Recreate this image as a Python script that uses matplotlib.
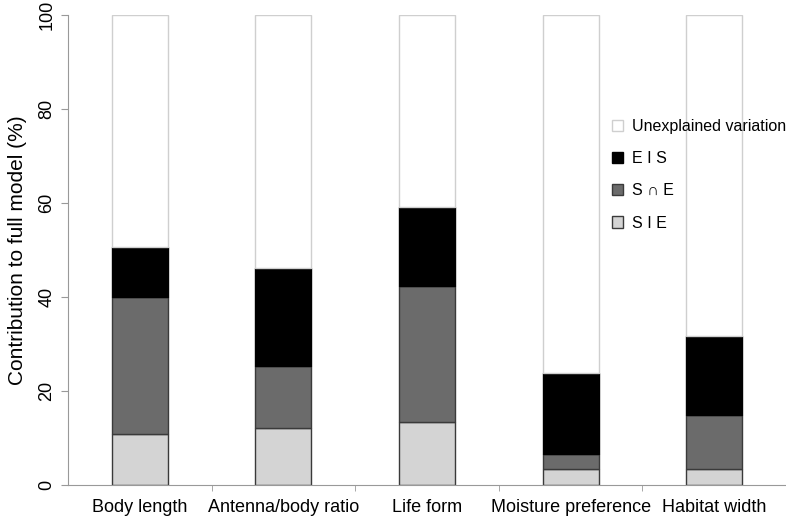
import matplotlib.pyplot as plt
import numpy as np

plt.rcParams["font.family"] = ["Liberation Sans", "DejaVu Sans"]

categories = ["Body length", "Antenna/body ratio", "Life form", "Moisture preference", "Habitat width"]
sie = [10.8, 12.1, 13.4, 3.5, 3.5]
s_and_e = [29.2, 13.2, 28.9, 3.1, 11.4]
eis = [10.6, 20.9, 16.8, 17.2, 16.7]
total = 100

x = np.arange(len(categories))
sie = np.array(sie)
s_and_e = np.array(s_and_e)
eis = np.array(eis)
unexplained = total - sie - s_and_e - eis

fig = plt.figure(figsize=(7.86, 5.26), dpi=100)
ax = fig.add_axes([0.0865, 0.078, 0.9135, 0.8935])

w = 0.39
edge = "#3a3a3a"
ax.bar(x, sie, w, color="#d4d4d4", edgecolor=edge, linewidth=1, label="S I E")
ax.bar(x, s_and_e, w, bottom=sie, color="#6b6b6b", edgecolor=edge, linewidth=1, label="S \u2229 E")
ax.bar(x, eis, w, bottom=sie + s_and_e, color="black", edgecolor="black", linewidth=1, label="E I S")
ax.bar(x, unexplained, w, bottom=sie + s_and_e + eis, color="white", edgecolor="#cfcfcf",
       linewidth=1, label="Unexplained variation")

ax.set_xlim(-0.5, 4.5)
ax.set_ylim(0, 100)
ax.set_yticks([0, 20, 40, 60, 80, 100])
ax.set_xticks(x)
ax.set_xticklabels(categories, fontsize=13)
ax.tick_params(axis="x", length=0, pad=10)
ax.set_xticks(np.arange(0.5, 4.5, 1), minor=True)
ax.tick_params(axis="x", which="minor", length=4, color="#999999")
ax.tick_params(axis="y", length=5, color="#999999", labelsize=13, pad=4)
for lbl in ax.get_yticklabels():
    lbl.set_rotation(90)
    lbl.set_va("center")
ax.set_ylabel("Contribution to full model (%)", fontsize=15, labelpad=8)

for side in ["top", "right"]:
    ax.spines[side].set_visible(False)
ax.spines["left"].set_color("#999999")
ax.spines["bottom"].set_color("#999999")

handles, labels = ax.get_legend_handles_labels()
leg = ax.legend(handles[::-1], labels[::-1], loc="upper left", bbox_to_anchor=(0.757, 0.779),
                frameon=False, fontsize=11.5, handlelength=0.7, handleheight=0.7,
                labelspacing=1.08, handletextpad=0.6, borderpad=0, borderaxespad=0)

fig.savefig("out.png", dpi=100)
